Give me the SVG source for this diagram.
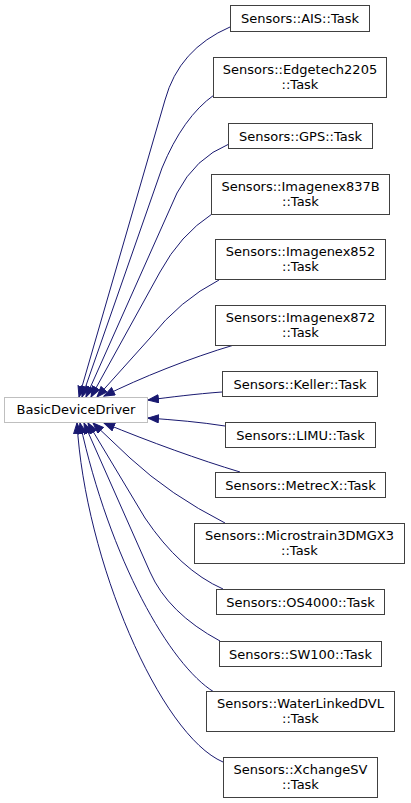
<svg xmlns="http://www.w3.org/2000/svg" width="411" height="803" viewBox="0 0 411 803">
<style>
.n rect{fill:#ffffff;stroke:#404040;stroke-width:1}
.b rect{fill:#ffffff;stroke:#bfbfbf;stroke-width:1}
text{font-family:"DejaVu Sans","Liberation Sans",sans-serif;font-size:13px;fill:#000000;text-anchor:middle}
.e path{fill:none;stroke:#191970;stroke-width:1;marker-end:url(#ah)}
</style>
<defs>
<marker id="ah" markerUnits="userSpaceOnUse" markerWidth="13" markerHeight="10" refX="11" refY="4.5" orient="auto">
<path d="M0.5,0.5 L11,4.5 L0.5,8.5 z" fill="#191970" stroke="#191970" stroke-width="1"/>
</marker>
</defs>
<rect width="411" height="803" fill="#ffffff"/>
<g id="edges" class="e">
<path d="M230,27 Q179,49 165,100 L79,397"/>
<path d="M214,95 Q183,117 162,168 L82,397"/>
<path d="M229,144 Q195,158 177,193 L86,397"/>
<path d="M212,214 Q180,235 160,272 L91,397"/>
<path d="M219,280 Q180,300 150,338 L97,397"/>
<path d="M234,345 C190,358 140,378 104,396"/>
<path d="M222,392 C195,394 172,397 148,400"/>
<path d="M225,426 C200,422 175,420 148,418"/>
<path d="M240,472 C200,460 150,442 104,423"/>
<path d="M225,523 Q170,495 130,458 L93,423"/>
<path d="M223,589 Q180,570 145,518 L88,423"/>
<path d="M220,641 Q168,613 150,572 L84,423"/>
<path d="M214,692 C170,665 110,560 80,423"/>
<path d="M223,762 C160,735 85,560 77,423"/>
</g>
<g id="BasicDeviceDriver" class="b"><rect x="4.5" y="397.5" width="143" height="25"/><text x="76" y="414">BasicDeviceDriver</text></g>
<g id="AIS" class="n"><rect x="230.5" y="5.5" width="139" height="26"/><text x="300" y="22.5">Sensors::AIS::Task</text></g>
<g id="Edgetech2205" class="n"><rect x="213.5" y="57.5" width="173" height="40"/><text x="300" y="74">Sensors::Edgetech2205</text><text x="300" y="88.5">::Task</text></g>
<g id="GPS" class="n"><rect x="228.5" y="123.5" width="144" height="25"/><text x="300.5" y="140.5">Sensors::GPS::Task</text></g>
<g id="Imagenex837B" class="n"><rect x="211.5" y="174.5" width="178" height="40"/><text x="300.5" y="191">Sensors::Imagenex837B</text><text x="300.5" y="205.5">::Task</text></g>
<g id="Imagenex852" class="n"><rect x="215.5" y="239.5" width="170" height="40"/><text x="300.5" y="256">Sensors::Imagenex852</text><text x="300.5" y="270.5">::Task</text></g>
<g id="Imagenex872" class="n"><rect x="215.5" y="305.5" width="170" height="40"/><text x="300.5" y="322">Sensors::Imagenex872</text><text x="300.5" y="336.5">::Task</text></g>
<g id="Keller" class="n"><rect x="222.5" y="371.5" width="155" height="25"/><text x="300" y="388.5">Sensors::Keller::Task</text></g>
<g id="LIMU" class="n"><rect x="225.5" y="422.5" width="150" height="25"/><text x="300.5" y="439.5">Sensors::LIMU::Task</text></g>
<g id="MetrecX" class="n"><rect x="215.5" y="472.5" width="170" height="25"/><text x="300.5" y="489.5">Sensors::MetrecX::Task</text></g>
<g id="Microstrain3DMGX3" class="n"><rect x="194.5" y="523.5" width="210" height="40"/><text x="299.5" y="540">Sensors::Microstrain3DMGX3</text><text x="299.5" y="554.5">::Task</text></g>
<g id="OS4000" class="n"><rect x="216.5" y="589.5" width="168" height="25"/><text x="300.5" y="606.5">Sensors::OS4000::Task</text></g>
<g id="SW100" class="n"><rect x="219.5" y="641.5" width="162" height="25"/><text x="300.5" y="658.5">Sensors::SW100::Task</text></g>
<g id="WaterLinkedDVL" class="n"><rect x="206.5" y="691.5" width="188" height="40"/><text x="300.5" y="708">Sensors::WaterLinkedDVL</text><text x="300.5" y="722.5">::Task</text></g>
<g id="XchangeSV" class="n"><rect x="223.5" y="757.5" width="154" height="40"/><text x="300.5" y="774">Sensors::XchangeSV</text><text x="300.5" y="788.5">::Task</text></g>
</svg>
